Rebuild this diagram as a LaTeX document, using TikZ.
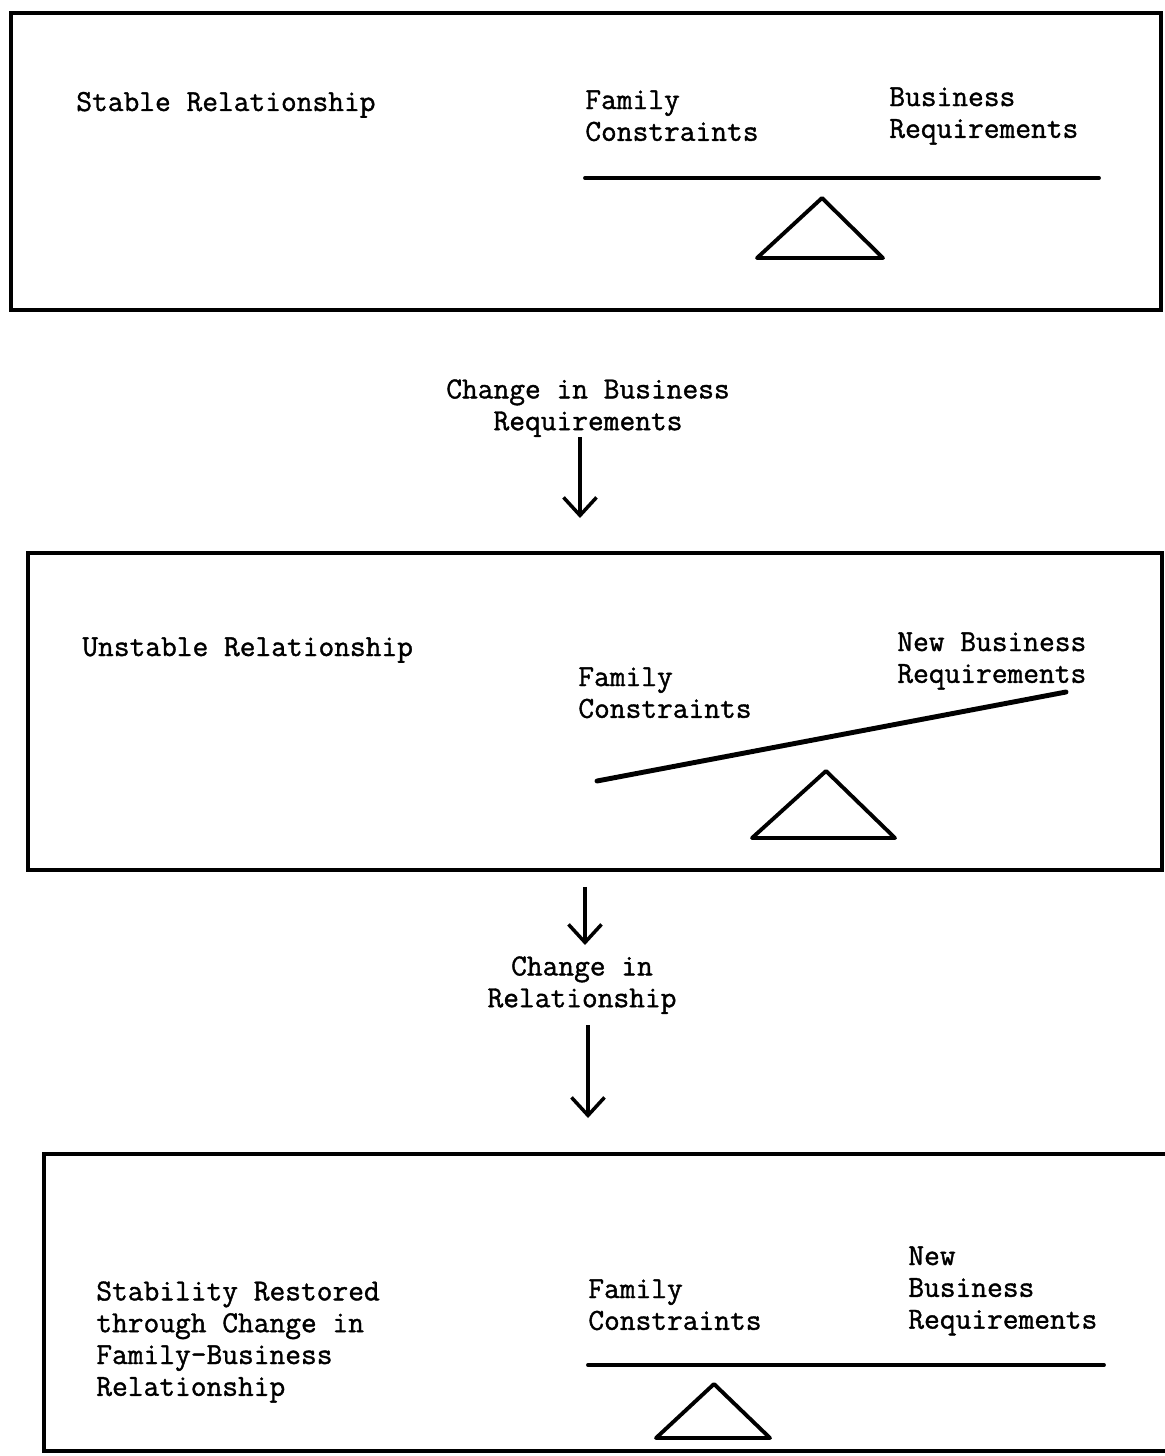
\documentclass[tikz,border=0pt]{standalone}
\usepackage{fontspec}
\setmonofont{Latin Modern Mono}[FakeBold=1.2]
\usepackage{tikz}
\usetikzlibrary{arrows.meta}
\tikzstyle{every node}=[font=\ttfamily\fontsize{17.4}{18.1}\selectfont, inner sep=0pt]
\tikzstyle{panel}=[draw, rectangle, line width=2.2pt]
\tikzstyle{label}=[align=left, anchor=north west]
\tikzstyle{beam}=[line width=2.2pt, line cap=round]
\tikzstyle{fulcrum}=[line width=2.2pt, line join=round]
\tikzstyle{arr}=[line width=2pt, -{Straight Barb[length=0.36cm,width=0.66cm]}]

\begin{document}
\begin{tikzpicture}[x=0.02cm, y=-0.02cm]
 \useasboundingbox (0,0) rectangle (1165,1456);
 % stable
 \node[panel, minimum width=23cm, minimum height=5.94cm] (box1) at (586,161.5) {};
 \node[anchor=base west] (stab) at (76,111) {Stable Relationship};
 \node[label] (fam1) at (585,90) {Family\\Constraints};
 \node[label] (bus1) at (889,87) {Business\\Requirements};
 \draw[beam] (585,178) -- (1099,178);
 \draw[fulcrum] (757,258) -- (822,198) -- (883,258) -- cycle;
 % first change
 \node[align=center, anchor=north] (chg1) at (588,379) {Change in Business\\Requirements};
 \coordinate (a1) at (580,518);
 \draw[arr] (chg1.south -| a1) -- (a1);
 % unstable
 \node[panel, minimum width=22.68cm, minimum height=6.34cm] (box2) at (595,711.5) {};
 \node[anchor=base west] (unst) at (82,656) {Unstable Relationship};
 \node[label] (fam2) at (578,667) {Family\\Constraints};
 \node[label] (bus2) at (897,632) {New Business\\Requirements};
 \draw[beam, line width=2.8pt] (597,781) -- (1066,692);
 \draw[fulcrum] (752,838) -- (826,771) -- (895,838) -- cycle;
 % second change
 \coordinate (a2) at (585,945);
 \draw[arr, shorten <=0.3cm] (box2.south -| a2) -- (a2);
 \node[align=center, anchor=north] (chg2) at (582,956) {Change in\\Relationship};
 \coordinate (a3) at (588,1118);
 \draw[arr, shorten <=0.22cm] (chg2.south -| a3) -- (a3);
 % restored
 \node[panel, minimum width=22.92cm, minimum height=5.94cm] (box3) at (617,1302.5) {};
 \node[label] (rest) at (96,1281) {Stability Restored\\through Change in\\Family-Business\\Relationship};
 \node[label] (fam3) at (588,1279) {Family\\Constraints};
 \node[label] (bus3) at (908,1246) {New\\Business\\Requirements};
 \draw[beam] (588,1365) -- (1104,1365);
 \draw[fulcrum] (656,1438) -- (714,1384) -- (770,1438) -- cycle;
\end{tikzpicture}
\end{document}
